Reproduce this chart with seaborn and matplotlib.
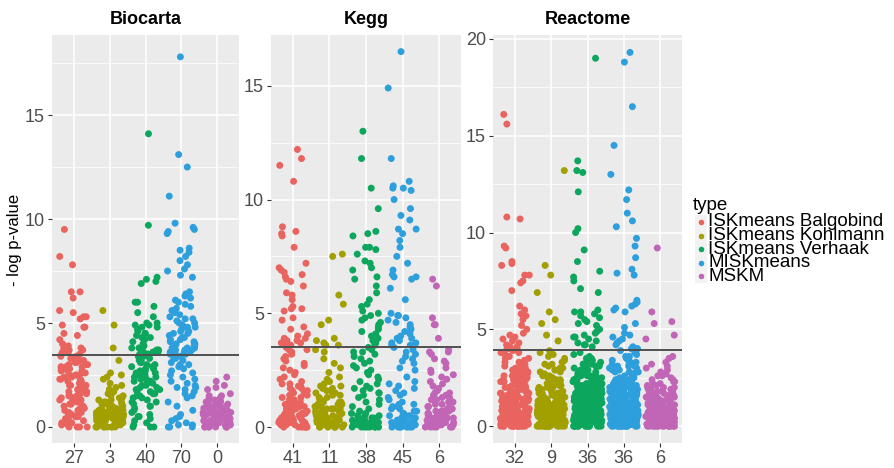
import numpy as np
import pandas as pd
import matplotlib
matplotlib.use("Agg")
import matplotlib.pyplot as plt
import seaborn as sns
from matplotlib.patches import Rectangle
from matplotlib.lines import Line2D
from matplotlib.ticker import MultipleLocator

# ---------------- data ----------------
types = ["ISKmeans Balgobind", "ISKmeans Kohlmann", "ISKmeans Verhaak", "MISKmeans", "MSKM"]
colors = ["#E9635F", "#A2A000", "#0CA65C", "#2E9FDD", "#C166B6"]
databases = ["Biocarta", "Kegg", "Reactome"]
tick_labels_bio = ["27", "3", "40", "70", "0"]
tick_labels_kegg = ["41", "11", "38", "45", "6"]
tick_labels_react = ["32", "9", "36", "36", "6"]
thresholds = [3.45, 3.52, 3.95]

# Biocarta
bio_balgobind = [9.5, 8.2, 7.8, 6.5, 6.5, 6.2, 5.6, 5.5, 5.3, 5.3, 5.2, 4.9, 4.8, 4.8, 4.5, 4.4, 4.2, 4.0,
                 3.9, 3.8, 3.8, 3.7, 3.7, 3.6, 3.6, 3.5, 3.5,
                 3.4, 3.4, 3.3, 3.3, 3.2, 3.2, 3.1, 3.1, 3.0, 3.0, 3.0, 2.9, 2.9, 2.9, 2.8, 2.8, 2.8, 2.7,
                 2.7, 2.7, 2.6, 2.6, 2.5, 2.5, 2.5, 2.4, 2.4, 2.3, 2.3, 2.3, 2.2, 2.2, 2.1, 2.1, 2.0, 2.0,
                 2.0, 1.9, 1.9, 1.8, 1.8, 1.8, 1.7, 1.7, 1.6, 1.6, 1.5, 1.5, 1.5, 1.4, 1.4, 1.3, 1.3, 1.2,
                 1.2, 1.2, 1.1, 1.1, 1.0, 1.0, 1.0, 0.9, 0.9, 0.8, 0.8, 0.8, 0.7, 0.7, 0.6, 0.6, 0.5, 0.5,
                 0.5, 0.4, 0.4, 0.3, 0.3, 0.2, 0.2, 0.1, 0.1, 0.0, 0.0, 0.0, 0.0]
bio_kohlmann = [5.6, 4.9, 3.8,
                3.2, 2.6, 2.5, 2.4, 2.3, 2.1, 2.0, 1.9, 1.8, 1.8, 1.7, 1.6, 1.5, 1.5, 1.4, 1.4, 1.3, 1.3,
                1.2, 1.2, 1.2, 1.1, 1.1, 1.1, 1.0, 1.0, 1.0, 1.0, 0.9, 0.9, 0.9, 0.9, 0.8, 0.8, 0.8, 0.8,
                0.8, 0.7, 0.7, 0.7, 0.7, 0.7, 0.6, 0.6, 0.6, 0.6, 0.6, 0.6, 0.5, 0.5, 0.5, 0.5, 0.5, 0.5,
                0.4, 0.4, 0.4, 0.4, 0.4, 0.4, 0.3, 0.3, 0.3, 0.3, 0.3, 0.3, 0.3, 0.2, 0.2, 0.2, 0.2, 0.2,
                0.2, 0.2, 0.1, 0.1, 0.1, 0.1, 0.1, 0.1, 0.1, 0.0, 0.0, 0.0, 0.0, 0.0, 0.0, 0.0, 0.0]
bio_verhaak = [14.1, 9.7, 7.2, 7.1, 7.0, 6.9, 6.0, 6.0, 5.8, 5.5, 5.3, 5.0, 5.0, 4.9, 4.9, 4.8, 4.8, 4.7,
               4.6, 4.5, 4.5, 4.4, 4.3, 4.3, 4.2, 4.1, 4.0, 3.9, 3.9, 3.8, 3.8, 3.7, 3.7, 3.7, 3.6, 3.6,
               3.6, 3.5, 3.5, 3.5,
               3.4, 3.4, 3.3, 3.3, 3.2, 3.2, 3.1, 3.1, 3.0, 3.0, 2.9, 2.9, 2.8, 2.8, 2.7, 2.7, 2.6, 2.6,
               2.5, 2.5, 2.4, 2.4, 2.3, 2.3, 2.2, 2.2, 2.1, 2.1, 2.0, 2.0, 1.9, 1.9, 1.8, 1.8, 1.7, 1.7,
               1.6, 1.6, 1.5, 1.5, 1.4, 1.4, 1.3, 1.2, 1.2, 1.1, 1.0, 1.0, 0.9, 0.8, 0.7, 0.6, 0.5, 0.5,
               0.4, 0.3, 0.2, 0.1, 0.0, 0.0, 0.0]
bio_miskmeans = [17.8, 13.1, 12.5, 11.1, 9.8, 9.6, 9.5, 9.4, 9.3, 8.6, 8.5, 8.4, 8.2, 8.0, 7.8, 7.6, 7.5,
                 7.3, 7.2, 6.5, 6.4, 6.3, 6.2, 6.1, 6.0, 5.9, 5.8, 5.7, 5.6, 5.5, 5.4, 5.3, 5.2, 5.2, 5.1,
                 5.0, 5.0, 4.9, 4.8, 4.8, 4.7, 4.6, 4.6, 4.5, 4.5, 4.4, 4.3, 4.3, 4.2, 4.2, 4.1, 4.1, 4.0,
                 4.0, 3.9, 3.9, 3.9, 3.8, 3.8, 3.8, 3.7, 3.7, 3.7, 3.6, 3.6, 3.6, 3.5, 3.5, 3.5, 3.5,
                 3.4, 3.3, 3.3, 3.2, 3.1, 3.0, 3.0, 2.9, 2.8, 2.7, 2.6, 2.5, 2.4, 2.3, 2.2, 2.1, 2.0, 1.9,
                 1.9, 1.8, 1.7, 1.6, 1.5, 1.4, 1.2, 1.0, 0.8, 0.6, 0.5, 0.4, 0.3, 0.2, 0.1, 0.1, 0.0, 0.0,
                 0.0]
bio_mskm = [2.4, 2.2, 2.0, 1.9, 1.8, 1.6, 1.5, 1.5, 1.4, 1.4, 1.3, 1.3, 1.2, 1.2, 1.2, 1.1, 1.1, 1.1, 1.0,
            1.0, 1.0, 1.0, 0.9, 0.9, 0.9, 0.9, 0.8, 0.8, 0.8, 0.8, 0.8, 0.7, 0.7, 0.7, 0.7, 0.7, 0.6, 0.6,
            0.6, 0.6, 0.6, 0.6, 0.5, 0.5, 0.5, 0.5, 0.5, 0.5, 0.4, 0.4, 0.4, 0.4, 0.4, 0.4, 0.4, 0.3, 0.3,
            0.3, 0.3, 0.3, 0.3, 0.3, 0.2, 0.2, 0.2, 0.2, 0.2, 0.2, 0.2, 0.1, 0.1, 0.1, 0.1, 0.1, 0.1, 0.1,
            0.0, 0.0, 0.0, 0.0, 0.0, 0.0, 0.0, 0.0]

# Kegg
kegg_balgobind = [12.2, 11.8, 11.5, 10.8, 8.8, 8.6, 8.5, 8.4, 7.9, 7.2, 7.0, 6.9, 6.8, 6.7, 6.6, 6.5, 6.4,
                  6.2, 5.9, 5.8, 5.6, 5.3, 5.2, 5.2, 5.1, 4.8, 4.7, 4.4, 4.3, 4.1, 4.0, 3.9, 3.9, 3.8, 3.8,
                  3.7, 3.7, 3.7, 3.6, 3.6, 3.6,
                  3.5, 3.4, 3.4, 3.3, 3.2, 3.1, 3.0, 2.9, 2.8, 2.7, 2.6, 2.5, 2.4, 2.3, 2.2, 2.1, 2.0, 1.9,
                  1.9, 1.8, 1.8, 1.7, 1.7, 1.6, 1.6, 1.5, 1.5, 1.4, 1.4, 1.3, 1.3, 1.2, 1.2, 1.1, 1.1, 1.0,
                  1.0, 1.0, 0.9, 0.9, 0.9, 0.8, 0.8, 0.8, 0.7, 0.7, 0.7, 0.6, 0.6, 0.6, 0.6, 0.5, 0.5, 0.5,
                  0.5, 0.4, 0.4, 0.4, 0.4, 0.3, 0.3, 0.3, 0.3, 0.2, 0.2, 0.2, 0.2, 0.2, 0.1, 0.1, 0.1, 0.1,
                  0.1, 0.0, 0.0, 0.0, 0.0, 0.0, 0.0, 0.0]
kegg_kohlmann = [7.6, 7.5, 5.8, 5.4, 4.7, 4.5, 3.9, 3.8, 3.7, 3.6, 3.6,
                 3.4, 3.3, 3.0, 2.8, 2.6, 2.4, 2.2, 2.1, 2.0, 1.9, 1.8, 1.8, 1.7, 1.7, 1.6, 1.6, 1.5, 1.5,
                 1.4, 1.4, 1.3, 1.3, 1.2, 1.2, 1.1, 1.1, 1.1, 1.0, 1.0, 1.0, 0.9, 0.9, 0.9, 0.8, 0.8, 0.8,
                 0.8, 0.7, 0.7, 0.7, 0.7, 0.6, 0.6, 0.6, 0.6, 0.5, 0.5, 0.5, 0.5, 0.5, 0.4, 0.4, 0.4, 0.4,
                 0.4, 0.3, 0.3, 0.3, 0.3, 0.3, 0.2, 0.2, 0.2, 0.2, 0.2, 0.2, 0.1, 0.1, 0.1, 0.1, 0.1, 0.1,
                 0.0, 0.0, 0.0, 0.0, 0.0, 0.0, 0.0]
kegg_verhaak = [13.0, 11.8, 10.5, 9.6, 8.6, 8.5, 8.4, 7.9, 7.9, 7.8, 7.6, 7.3, 7.2, 7.0, 6.9, 6.6, 6.5, 6.2,
                5.9, 5.6, 5.4, 5.3, 5.1, 5.0, 4.9, 4.8, 4.7, 4.6, 4.5, 4.4, 4.3, 4.2, 4.1, 4.0, 3.9, 3.8,
                3.7, 3.6,
                3.5, 3.4, 3.3, 3.3, 3.2, 3.1, 3.0, 2.9, 2.8, 2.7, 2.6, 2.5, 2.4, 2.3, 2.2, 2.1, 2.0, 1.9,
                1.8, 1.7, 1.7, 1.6, 1.5, 1.5, 1.4, 1.3, 1.2, 1.1, 1.0, 0.9, 0.8, 0.7, 0.6, 0.6, 0.5, 0.5,
                0.5, 0.4, 0.4, 0.4, 0.4, 0.3, 0.3, 0.3, 0.3, 0.3, 0.2, 0.2, 0.2, 0.2, 0.2, 0.2, 0.1, 0.1,
                0.1, 0.1, 0.1, 0.1, 0.0, 0.0, 0.0, 0.0, 0.0, 0.0, 0.0, 0.0]
kegg_miskmeans = [16.5, 14.9, 11.8, 10.8, 10.6, 10.5, 10.5, 10.4, 10.0, 9.6, 9.3, 9.1, 8.7, 8.7, 8.5, 8.2,
                  7.9, 7.5, 7.2, 6.9, 6.7, 6.6, 6.6, 6.5, 6.1, 5.6, 5.0, 4.9, 4.9, 4.8, 4.7, 4.6, 4.5, 4.4,
                  4.3, 4.2, 4.1, 4.0, 3.9, 3.9, 3.8, 3.7, 3.7, 3.6, 3.6,
                  3.5, 3.4, 3.3, 3.2, 3.1, 3.0, 2.9, 2.8, 2.6, 2.5, 2.2, 2.0, 1.9, 1.8, 1.7, 1.6, 1.5, 1.4,
                  1.3, 1.2, 1.1, 1.0, 1.0, 0.9, 0.9, 0.8, 0.8, 0.7, 0.7, 0.6, 0.6, 0.5, 0.5, 0.5, 0.4, 0.4,
                  0.4, 0.3, 0.3, 0.3, 0.3, 0.2, 0.2, 0.2, 0.2, 0.1, 0.1, 0.1, 0.1, 0.1, 0.0, 0.0, 0.0, 0.0,
                  0.0, 0.0, 0.0]
kegg_mskm = [6.5, 6.2, 4.8, 4.5, 4.5, 3.9,
             3.4, 3.3, 3.3, 3.2, 3.0, 2.9, 2.8, 2.6, 2.5, 2.4, 2.3, 2.2, 2.1, 2.0, 1.9, 1.8, 1.7, 1.6, 1.5,
             1.5, 1.4, 1.4, 1.3, 1.3, 1.2, 1.2, 1.1, 1.1, 1.0, 1.0, 1.0, 0.9, 0.9, 0.9, 0.8, 0.8, 0.8, 0.8,
             0.7, 0.7, 0.7, 0.7, 0.6, 0.6, 0.6, 0.6, 0.5, 0.5, 0.5, 0.5, 0.5, 0.4, 0.4, 0.4, 0.4, 0.4, 0.3,
             0.3, 0.3, 0.3, 0.3, 0.2, 0.2, 0.2, 0.2, 0.2, 0.1, 0.1, 0.1, 0.1, 0.1, 0.0, 0.0, 0.0, 0.0, 0.0,
             0.0]

# Reactome: values above the line listed one by one; the dense mass below
# the line is given as point counts per 0.1 level (levels 0.0 .. 3.9)
react_levels = [0.0, 0.1, 0.2, 0.3, 0.4, 0.5, 0.6, 0.7, 0.8, 0.9,
                1.0, 1.1, 1.2, 1.3, 1.4, 1.5, 1.6, 1.7, 1.8, 1.9,
                2.0, 2.1, 2.2, 2.3, 2.4, 2.5, 2.6, 2.7, 2.8, 2.9,
                3.0, 3.1, 3.2, 3.3, 3.4, 3.5, 3.6, 3.7, 3.8, 3.9]
react_balgobind_top = [16.1, 15.6, 10.8, 10.7, 9.3, 9.2, 8.5, 8.4, 8.3, 7.8, 7.8, 7.5, 7.4, 7.0, 6.2, 6.0,
                       5.8, 5.7, 5.5, 5.2, 5.0, 4.8, 4.7, 4.6, 4.5, 4.4, 4.3, 4.2, 4.1, 4.1, 4.0, 4.0]
react_balgobind_counts = [14, 10, 9, 9, 8, 8, 8, 8, 8, 8, 8, 8, 7, 7, 7, 6, 6, 6, 5, 5,
                          5, 4, 4, 4, 3, 3, 3, 3, 3, 2, 2, 2, 2, 2, 1, 2, 1, 1, 2, 2]
react_kohlmann_top = [13.2, 8.3, 7.8, 6.9, 5.9, 5.5, 5.3, 4.7, 4.4]
react_kohlmann_counts = [16, 11, 10, 10, 9, 9, 9, 8, 8, 8, 7, 7, 6, 6, 5, 5, 4, 4, 4, 3,
                         3, 3, 2, 2, 2, 2, 2, 1, 2, 2, 2, 1, 2, 1, 1, 1, 1, 1, 1, 1]
react_verhaak_top = [19.0, 13.7, 13.2, 13.1, 12.1, 10.2, 10.0, 9.1, 8.5, 8.0, 7.7, 7.5, 7.1, 6.9, 6.0,
                     5.9, 5.9, 5.8, 5.7, 5.6, 5.5, 5.4, 5.3, 5.2, 5.0, 4.9, 4.8, 4.7, 4.6, 4.6, 4.5, 4.4,
                     4.3, 4.2, 4.2, 4.1]
react_verhaak_counts = [14, 10, 9, 9, 9, 9, 9, 9, 9, 9, 9, 8, 8, 8, 8, 7, 7, 7, 6, 6,
                        6, 6, 5, 5, 5, 4, 4, 4, 3, 3, 3, 3, 3, 2, 2, 2, 1, 1, 1, 0]
react_miskmeans_top = [19.3, 18.8, 16.5, 14.5, 13.0, 12.2, 11.7, 11.0, 10.6, 10.3, 9.7, 9.3, 8.7, 8.1,
                       7.9, 7.8, 6.5, 6.4, 6.3, 6.2, 6.1, 6.0, 5.9, 5.3, 5.1, 4.8, 4.7, 4.6, 4.5, 4.4,
                       4.3, 4.2, 4.1, 4.0, 4.0, 4.0]
react_miskmeans_counts = [14, 10, 9, 9, 9, 9, 9, 9, 8, 8, 8, 8, 7, 7, 7, 6, 6, 6, 5, 5,
                          5, 5, 4, 4, 4, 3, 3, 3, 3, 3, 3, 3, 2, 2, 2, 1, 2, 1, 1, 1]
react_mskm_top = [9.2, 5.9, 5.4, 5.3, 4.7, 4.5]
react_mskm_counts = [15, 11, 10, 10, 9, 9, 9, 8, 8, 8, 7, 6, 6, 5, 5, 4, 4, 3, 3, 3,
                     3, 2, 2, 2, 2, 1, 2, 1, 1, 1, 1, 1, 1, 1, 0, 1, 1, 0, 0, 0]

# ---------------- table ----------------
rows = []
bio = [bio_balgobind, bio_kohlmann, bio_verhaak, bio_miskmeans, bio_mskm]
kegg = [kegg_balgobind, kegg_kohlmann, kegg_verhaak, kegg_miskmeans, kegg_mskm]
react_top = [react_balgobind_top, react_kohlmann_top, react_verhaak_top, react_miskmeans_top, react_mskm_top]
react_counts = [react_balgobind_counts, react_kohlmann_counts, react_verhaak_counts,
                react_miskmeans_counts, react_mskm_counts]
for t, vals in zip(types, bio):
    rows += [("Biocarta", t, v) for v in vals]
for t, vals in zip(types, kegg):
    rows += [("Kegg", t, v) for v in vals]
for t, top, cnt in zip(types, react_top, react_counts):
    vals = list(top) + list(np.repeat(react_levels, cnt))
    rows += [("Reactome", t, v) for v in vals]
df = pd.DataFrame(rows, columns=["db", "type", "value"])

# ---------------- plot ----------------
plt.rcParams["font.family"] = ["Liberation Sans", "DejaVu Sans"]
W, H = 895, 468
fig = plt.figure(figsize=(W / 100, H / 100), dpi=100)

panels = {"Biocarta": (52, 239), "Kegg": (271, 461), "Reactome": (493, 682)}
top_px, bot_px = 35, 443
ylims = {"Biocarta": (-0.77, 18.85), "Kegg": (-0.70, 17.23), "Reactome": (-0.87, 20.2)}
ticklabs = {"Biocarta": tick_labels_bio, "Kegg": tick_labels_kegg, "Reactome": tick_labels_react}
np.random.seed(11)
for db, th in zip(databases, thresholds):
    x0, x1 = panels[db]
    ax = fig.add_axes([x0 / W, 1 - bot_px / H, (x1 - x0) / W, (bot_px - top_px) / H])
    ax.set_facecolor("#EBEBEB")
    sub = df[df["db"] == db]
    sns.stripplot(data=sub, x="type", y="value", hue="type", order=types, hue_order=types,
                  palette=colors, jitter=0.4, size=5.0, linewidth=0, ax=ax, legend=False, zorder=3)
    ax.axhline(th, color="#505050", lw=1.4, zorder=4)
    ax.set_xlim(-0.6, 4.6)
    ax.set_ylim(*ylims[db])
    ax.set_xticks(range(5))
    ax.set_xticklabels(ticklabs[db])
    ax.yaxis.set_major_locator(MultipleLocator(5))
    ax.yaxis.set_minor_locator(MultipleLocator(2.5))
    ax.grid(True, which="major", color="white", lw=1.1, zorder=0)
    ax.grid(True, which="minor", axis="y", color="white", lw=0.55, zorder=0)
    ax.set_axisbelow(True)
    for s in ax.spines.values():
        s.set_visible(False)
    ax.tick_params(axis="both", which="major", length=3, width=0.8, color="#333333",
                   labelcolor="#4D4D4D", labelsize=13, pad=2)
    ax.tick_params(axis="y", which="minor", length=0)
    ax.set_xlabel("")
    ax.set_ylabel("")
    ax.set_title(db, fontweight="bold", fontsize=13, pad=8)

fig.text(15 / W, 1 - 240 / H, "- log p-value", rotation=90, fontsize=12, ha="center", va="center")

# legend (labels overflow the short key rows, as in the original)
fig.text(693 / W, 1 - 205 / H, "type", fontsize=13.5, ha="left", va="center")
for i, (t, c) in enumerate(zip(types, colors)):
    yc = 222 + i * 13.6
    fig.patches.append(Rectangle((695 / W, 1 - (yc + 6.8) / H), 12 / W, 13.6 / H,
                                 transform=fig.transFigure, facecolor="#F2F2F2", edgecolor="none"))
    fig.lines.append(Line2D([701 / W], [1 - yc / H], transform=fig.transFigure, marker="o",
                            markersize=4, color=c, markeredgewidth=0, linestyle="none"))
    fig.text(708 / W, 1 - yc / H, t, fontsize=13.5, ha="left", va="center")

fig.savefig("out.png", dpi=100)
